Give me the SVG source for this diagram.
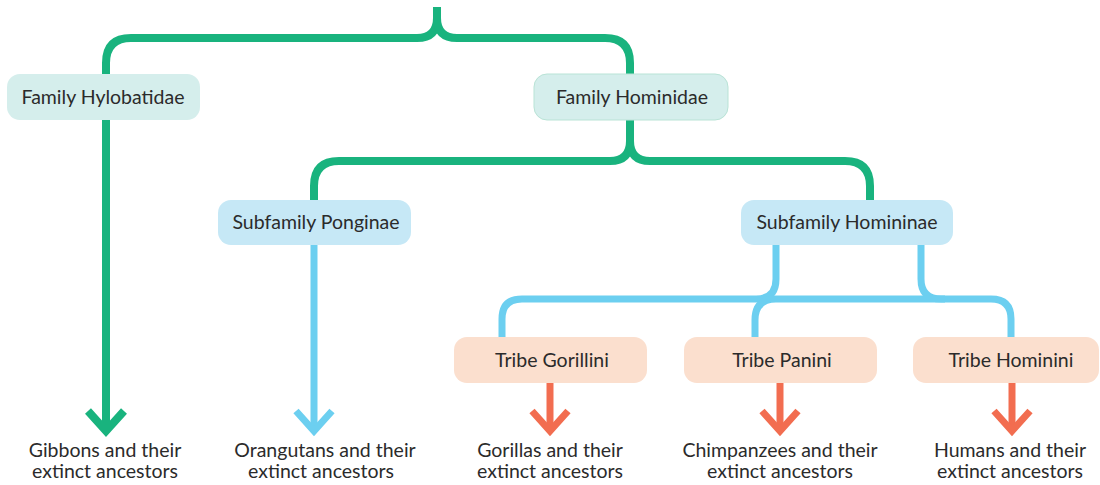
<svg xmlns="http://www.w3.org/2000/svg" width="1100" height="485" viewBox="0 0 1100 485">
<style>
.g{fill:none;stroke:#19b37e;stroke-width:8}
.b{fill:none;stroke:#6ccff0;stroke-width:7}
.o{fill:none;stroke:#f26d50;stroke-width:7}
.t{font-family:Lato,"Open Sans",sans-serif;font-size:19.5px;fill:#2b2b2b;text-anchor:middle}
.fam{fill:#d5eeec}
.sub{fill:#c6e8f6}
.tri{fill:#fbdfce}
</style>
<rect width="1100" height="485" fill="#fff"/>
<g id="connectors">
<path class="g" d="M437 7 V18 Q437 38 417 38 H131 Q106 38 106 63 V430"/>
<path class="g" d="M437 18 Q437 38 457 38 H605 Q630 38 630 63 V80"/>
<polyline class="g" points="88,411 106,431 124,411"/>
<path class="g" d="M630 115 V141 Q630 161 610 161 H339 Q314 161 314 186 V205"/>
<path class="g" d="M630 141 Q630 161 650 161 H845 Q870 161 870 186 V205"/>
<path class="b" d="M314 240 V430"/>
<polyline class="b" points="296,411 314,431 332,411"/>
<path class="b" d="M776 240 V279 Q776 299 756 299 H522 Q502 299 502 319 V342"/>
<path class="b" d="M921 240 V279 Q921 299 941 299 H991 Q1011 299 1011 319 V342"/>
<path class="b" d="M945 299 H776 Q755 299 755 320 V342"/>
<path class="o" d="M550 380 V431"/>
<polyline class="o" points="532,411 550,431 568,411"/>
<path class="o" d="M780 380 V431"/>
<polyline class="o" points="762,411 780,431 798,411"/>
<path class="o" d="M1012 380 V431"/>
<polyline class="o" points="994,411 1012,431 1030,411"/>
</g>
<g id="hylobatidae"><rect class="fam" x="7" y="74" width="193" height="46" rx="13"/><text class="t" x="103" y="104">Family Hylobatidae</text></g>
<g id="hominidae"><rect class="fam" x="534" y="74" width="194" height="46" rx="13" stroke="#b9e3d6" stroke-width="1"/><text class="t" x="632" y="104">Family Hominidae</text></g>
<g id="ponginae"><rect class="sub" x="218" y="200" width="193" height="45" rx="13"/><text class="t" x="316" y="229">Subfamily Ponginae</text></g>
<g id="homininae"><rect class="sub" x="741" y="200" width="212" height="45" rx="13"/><text class="t" x="847" y="229">Subfamily Homininae</text></g>
<g id="gorillini"><rect class="tri" x="454" y="337" width="193" height="46" rx="13"/><text class="t" x="552" y="367">Tribe Gorillini</text></g>
<g id="panini"><rect class="tri" x="684" y="337" width="193" height="46" rx="13"/><text class="t" x="782" y="367">Tribe Panini</text></g>
<g id="hominini"><rect class="tri" x="913" y="337" width="186" height="46" rx="13"/><text class="t" x="1011" y="367">Tribe Hominini</text></g>
<g id="gibbons"><text class="t" x="105" y="457">Gibbons and their</text><text class="t" x="105" y="478">extinct ancestors</text></g>
<g id="orangutans"><text class="t" x="325" y="457">Orangutans and their</text><text class="t" x="321" y="478">extinct ancestors</text></g>
<g id="gorillas"><text class="t" x="550" y="457">Gorillas and their</text><text class="t" x="550" y="478">extinct ancestors</text></g>
<g id="chimpanzees"><text class="t" x="780" y="457">Chimpanzees and their</text><text class="t" x="780" y="478">extinct ancestors</text></g>
<g id="humans"><text class="t" x="1010" y="457">Humans and their</text><text class="t" x="1010" y="478">extinct ancestors</text></g>
</svg>
